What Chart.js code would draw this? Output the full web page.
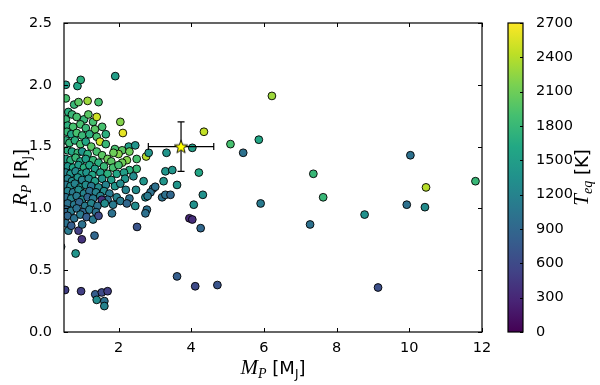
<!DOCTYPE html>
<html><head><meta charset="utf-8">
<script src="https://cdn.jsdelivr.net/npm/chart.js@4.4.0/dist/chart.umd.min.js"></script>
<style>html,body{margin:0;padding:0;background:#fff;}canvas{display:block;}</style>
</head><body>
<canvas id="c" width="600" height="385"></canvas>
<script>
// ---- data: planet mass [M_J], radius [R_J], equilibrium temperature [K] ----
const clusterMass = [
 0.55,0.87,0.96,1.91,
 0.55,0.78,0.90,1.15,1.45,
 0.55,0.62,0.72,0.85,1.05,1.17,1.30,1.40,
 0.60,0.75,0.95,1.10,1.35,1.55,2.05,
 0.58,0.70,0.85,1.00,1.20,1.40,1.65,2.12,
 0.55,0.65,0.80,0.95,1.10,1.25,1.49,1.65,2.28,2.46,1.90,2.10,2.30,2.00,
 0.60,0.72,0.88,1.00,1.15,1.40,1.55,1.86,2.76,2.83,3.32,
 0.55,0.68,0.82,0.95,1.10,1.30,1.45,1.70,1.80,2.23,2.50,2.10,
 0.60,0.75,0.90,1.05,1.20,1.35,1.60,1.85,2.00,2.50,2.30,
 3.29,3.48,0.55,0.68,0.82,0.98,1.12,1.28,1.50,1.70,1.95,2.15,
 0.60,0.72,0.88,1.00,1.18,1.35,1.55,1.80,2.18,2.41,2.69,3.24,3.61,
 0.55,0.68,0.80,0.95,1.10,1.25,1.45,1.65,1.90,2.05,
 0.60,0.75,0.90,1.05,1.20,1.38,1.60,1.75,2.20,2.48,2.95,2.88,3.01,
 0.55,0.70,0.85,1.00,1.15,1.30,1.50,1.70,1.95,2.30,2.74,2.80,3.20,3.29,3.43,1.54,
 0.60,0.78,0.92,1.08,1.25,1.42,1.62,1.85,2.05,2.23,2.46,
 0.55,0.70,0.85,1.02,1.20,1.38,2.78,
 0.60,0.78,0.95,1.12,1.30,1.45,1.82,2.74,
 0.55,0.62,0.70,0.90,1.00,2.51,
 1.34,0.99,0.82,0.42,
 0.53,0.97,1.36,1.54,1.70,1.40,1.61,1.61
];
const clusterRadius = [
 2.00,1.99,2.04,2.07,
 1.89,1.84,1.86,1.87,1.86,
 1.72,1.78,1.76,1.74,1.72,1.76,1.70,1.74,
 1.67,1.66,1.68,1.65,1.64,1.66,1.70,
 1.62,1.60,1.61,1.59,1.60,1.58,1.60,1.61,
 1.55,1.53,1.55,1.52,1.54,1.50,1.54,1.52,1.50,1.51,1.48,1.47,1.46,1.44,
 1.47,1.46,1.45,1.46,1.44,1.46,1.43,1.45,1.42,1.45,1.45,
 1.40,1.39,1.41,1.38,1.40,1.39,1.37,1.40,1.38,1.39,1.40,1.37,
 1.34,1.33,1.35,1.33,1.35,1.32,1.34,1.33,1.35,1.32,1.31,
 1.30,1.31,1.29,1.28,1.30,1.28,1.29,1.27,1.29,1.28,1.28,1.29,
 1.24,1.22,1.25,1.23,1.24,1.22,1.24,1.23,1.24,1.26,1.22,1.22,1.19,
 1.19,1.18,1.20,1.17,1.19,1.18,1.17,1.19,1.18,1.20,
 1.14,1.13,1.15,1.12,1.14,1.13,1.14,1.12,1.15,1.15,1.16,1.13,1.175,
 1.09,1.08,1.10,1.07,1.09,1.08,1.10,1.07,1.09,1.08,1.09,1.10,1.09,1.11,1.11,1.07,
 1.04,1.03,1.05,1.02,1.04,1.02,1.04,1.03,1.06,1.04,1.02,
 0.99,0.98,1.00,0.97,0.99,0.97,0.99,
 0.94,0.92,0.95,0.93,0.91,0.94,0.96,0.96,
 0.88,0.82,0.86,0.82,0.87,0.85,
 0.78,0.75,0.635,0.69,
 0.34,0.33,0.305,0.32,0.33,0.26,0.25,0.21
];
const clusterTeq = [
 1500,1600,1700,1500,
 1900,1800,2000,2300,1900,
 1800,1700,1800,1900,1800,2000,1900,2500,
 1700,1900,1900,1800,2000,1900,2200,
 1800,1600,1900,1800,1700,1900,1700,2600,
 1700,1800,1700,1900,1600,2000,2500,1800,1500,1400,1900,2000,2100,2200,
 1700,1600,1800,1400,1700,1900,2000,2100,2400,1400,1400,
 1500,1700,1800,1600,1500,1800,1700,2100,2000,2200,1900,2100,
 1400,1600,1500,1700,1600,1500,1800,1900,1900,1800,1700,
 1400,1400,1200,1400,1300,1500,1400,1600,1500,1700,1600,1500,
 1200,1300,1400,1200,1300,1500,1400,1500,1400,1300,1400,1400,1400,
 1100,1300,1200,1400,1300,1100,1300,1200,1400,1300,
 1200,1100,1300,1200,1000,1200,1300,1100,1200,1300,1000,1000,1000,
 1000,1200,1100,1300,900,1100,1200,1000,1200,1000,1300,1100,1000,1000,900,400,
 1000,1100,900,1100,1200,1000,1300,1100,1100,900,1300,
 900,1100,1000,900,1100,1000,1000,
 900,1000,1100,800,1100,600,1000,1000,
 1000,1100,800,500,1000,700,
 900,400,1400,1000,
 500,500,800,600,500,1300,1000,1200
];
const wideMass   = [4.03,4.21,4.32,4.07,3.95,4.03,4.26,4.35,5.08,5.43,5.86,5.91,6.22,3.61,4.11,4.72,7.36,7.63,7.27,8.77,9.14,10.03,9.93,10.43,10.46,11.82];
const wideRadius = [1.49,1.29,1.11,1.03,0.92,0.91,0.84,1.62,1.52,1.45,1.556,1.04,1.91,0.45,0.37,0.38,1.28,1.09,0.87,0.95,0.36,1.43,1.03,1.01,1.17,1.22];
const wideTeq    = [1500,1600,1350,1350,300,350,900,2450,1900,1000,1600,1100,2300,800,600,700,1800,1800,1000,1350,650,1000,1000,1300,2400,1800];

// highlighted planet (star) with error bars
const starMass = [3.72];
const starRadius = [1.50];
const starMassErr = [0.90];
const starRadiusErr = [0.20];

// axis ticks
const xTicks = [2,4,6,8,10,12];
const yTicks = [0,0.5,1.0,1.5,2.0,2.5];
const cbTicks = [0,300,600,900,1200,1500,1800,2100,2400,2700];
const teqMin = 0, teqMax = 2700;

// ---- styling helpers ----
const viridisStops = ['#440154','#482475','#414487','#355f8d','#2a788e','#21918c','#22a884','#44bf70','#7ad151','#bddf26','#fde725'];
function hex2rgb(h){return [parseInt(h.substr(1,2),16),parseInt(h.substr(3,2),16),parseInt(h.substr(5,2),16)];}
function viridis(t){
  t = Math.max(0, Math.min(1, t));
  const p = t*10, i = Math.min(9, Math.floor(p)), f = p - i;
  const a = hex2rgb(viridisStops[i]), b = hex2rgb(viridisStops[i+1]);
  return 'rgb(' + a.map((v,k)=>Math.round(v+(b[k]-v)*f)).join(',') + ')';
}
const allMass = clusterMass.concat(wideMass);
const allRadius = clusterRadius.concat(wideRadius);
const allTeq = clusterTeq.concat(wideTeq);

// star marker image
const starImg = document.createElement('canvas');
starImg.width = 18; starImg.height = 18;
(function(){
  const g = starImg.getContext('2d');
  const R = 7, r = 2.9, cx = 9, cy = 9.5;
  g.beginPath();
  for (let k=0;k<10;k++){
    const ang = -Math.PI/2 + k*Math.PI/5;
    const rr = k%2===0 ? R : r;
    const px = cx + rr*Math.cos(ang), py = cy + rr*Math.sin(ang);
    if(k===0) g.moveTo(px,py); else g.lineTo(px,py);
  }
  g.closePath();
  g.fillStyle = '#ffff00'; g.fill();
  g.lineWidth = 0.9; g.strokeStyle = '#000'; g.stroke();
})();

function drawRich(ctx, parts, x, y){
  let total = 0;
  parts.forEach(p=>{ctx.font = p.f; p.w = ctx.measureText(p.t).width; total += p.w;});
  let cx = x - total/2;
  ctx.textAlign = 'left'; ctx.textBaseline = 'alphabetic';
  parts.forEach(p=>{ctx.font = p.f; ctx.fillText(p.t, cx, y + (p.dy||0)); cx += p.w;});
}
const SERIF_I = 'italic 21px "Liberation Serif"';
const SERIF_SUB = 'italic 14px "Liberation Serif"';
const SANS = '18px "DejaVu Sans"';
const SANS_SUB = '12px "DejaVu Sans"';

const framePlugin = {
  id: 'frame',
  afterDatasetDraw(chart, args){
    if (args.index !== 1) return;
    const ctx = chart.ctx, xs = chart.scales.x, ys = chart.scales.y;
    ctx.save();
    ctx.strokeStyle = '#000'; ctx.lineWidth = 1.2;
    for (let i=0;i<starMass.length;i++){
      const cx = xs.getPixelForValue(starMass[i]), cy = ys.getPixelForValue(starRadius[i]);
      const x1 = xs.getPixelForValue(starMass[i]-starMassErr[i]), x2 = xs.getPixelForValue(starMass[i]+starMassErr[i]);
      const y1 = ys.getPixelForValue(starRadius[i]+starRadiusErr[i]), y2 = ys.getPixelForValue(starRadius[i]-starRadiusErr[i]);
      const c = 3.5;
      ctx.beginPath();
      ctx.moveTo(x1,cy); ctx.lineTo(x2,cy);
      ctx.moveTo(x1,cy-c); ctx.lineTo(x1,cy+c);
      ctx.moveTo(x2,cy-c); ctx.lineTo(x2,cy+c);
      ctx.moveTo(cx,y1); ctx.lineTo(cx,y2);
      ctx.moveTo(cx-c,y1); ctx.lineTo(cx+c,y1);
      ctx.moveTo(cx-c,y2); ctx.lineTo(cx+c,y2);
      ctx.stroke();
    }
    ctx.restore();
  },
  afterDraw(chart){
    const ctx = chart.ctx, a = chart.chartArea;
    const xs = chart.scales.x, ys = chart.scales.y, cb = chart.scales.cb;
    ctx.save();
    ctx.strokeStyle = '#000';
    ctx.lineWidth = 1.2;
    ctx.strokeRect(a.left, a.top, a.right-a.left, a.bottom-a.top);
    ctx.lineWidth = 1;
    const tl = 4;
    ctx.beginPath();
    xTicks.forEach(v=>{
      const p = Math.round(xs.getPixelForValue(v))+0.5;
      ctx.moveTo(p, a.bottom); ctx.lineTo(p, a.bottom-tl);
      ctx.moveTo(p, a.top); ctx.lineTo(p, a.top+tl);
    });
    yTicks.forEach(v=>{
      const p = Math.round(ys.getPixelForValue(v))+0.5;
      ctx.moveTo(a.left, p); ctx.lineTo(a.left+tl, p);
      ctx.moveTo(a.right, p); ctx.lineTo(a.right-tl, p);
    });
    ctx.stroke();
    // colorbar
    const bx0 = a.right + 26, bx1 = a.right + 41;
    const bTop = cb.getPixelForValue(teqMax), bBot = cb.getPixelForValue(teqMin);
    const grad = ctx.createLinearGradient(0, bBot, 0, bTop);
    viridisStops.forEach((c,i)=>grad.addColorStop(i/(viridisStops.length-1), c));
    ctx.fillStyle = grad;
    ctx.fillRect(bx0, bTop, bx1-bx0, bBot-bTop);
    ctx.lineWidth = 1.2;
    ctx.strokeRect(bx0, bTop, bx1-bx0, bBot-bTop);
    ctx.lineWidth = 1;
    ctx.beginPath();
    cbTicks.forEach(v=>{
      const p = Math.round(cb.getPixelForValue(v))+0.5;
      ctx.moveTo(bx1, p); ctx.lineTo(bx1-3, p);
    });
    ctx.stroke();
    // titles
    ctx.fillStyle = '#000';
    const midX = (a.left + a.right)/2, midY = (a.top + a.bottom)/2;
    drawRich(ctx, [
      {t:'M', f:SERIF_I},{t:'P', f:SERIF_SUB, dy:4},{t:' [M', f:SANS},{t:'J', f:SANS_SUB, dy:4},{t:']', f:SANS}
    ], midX, 374);
    ctx.save();
    ctx.translate(27, midY);
    ctx.rotate(-Math.PI/2);
    drawRich(ctx, [
      {t:'R', f:SERIF_I},{t:'P', f:SERIF_SUB, dy:4},{t:' [R', f:SANS},{t:'J', f:SANS_SUB, dy:4},{t:']', f:SANS}
    ], 0, 0);
    ctx.restore();
    ctx.save();
    ctx.translate(588, midY);
    ctx.rotate(-Math.PI/2);
    drawRich(ctx, [
      {t:'T', f:SERIF_I},{t:'eq', f:SERIF_SUB, dy:4},{t:' [K]', f:SANS}
    ], 0, 0);
    ctx.restore();
    ctx.restore();
  }
};

function noPad(s){ s.paddingTop = 0; s.paddingBottom = 0; }
const tickFont = {family:'DejaVu Sans', size:14.5};
new Chart(document.getElementById('c'), {
  type: 'scatter',
  data: {
    datasets: [
      {
        label: 'target',
        data: starMass.map((m,i)=>({x:m, y:starRadius[i]})),
        pointStyle: starImg,
        pointRadius: 8, pointHoverRadius: 8,
        clip: false
      },
      {
        label: 'planets',
        data: allMass.map((m,i)=>({x:m, y:allRadius[i]})),
        backgroundColor: allTeq.map(t=>viridis((t-teqMin)/(teqMax-teqMin))),
        borderColor: '#000',
        borderWidth: 0.9,
        pointRadius: 3.9, pointHoverRadius: 3.9,
        clip: 0
      }
    ]
  },
  options: {
    responsive: false, animation: false, devicePixelRatio: 1, events: [],
    layout: {autoPadding: false, padding: {top: 23, left: 0, right: 0, bottom: 0}},
    plugins: {legend: {display: false}, tooltip: {enabled: false}},
    scales: {
      x: {
        type: 'linear', position: 'bottom', min: 0.5, max: 12,
        afterBuildTicks: s => { s.ticks = xTicks.map(v=>({value:v})); },
        afterFit: s => { s.height = 53; s.paddingLeft = 0; s.paddingRight = 0; },
        grid: {display: false}, border: {display: false},
        ticks: {font: tickFont, color: '#000', padding: 0, maxRotation: 0, autoSkip: false, callback: v => String(v)}
      },
      y: {
        type: 'linear', position: 'left', min: 0, max: 2.5,
        afterBuildTicks: s => { s.ticks = yTicks.map(v=>({value:v})); },
        afterFit: s => { s.width = 64; noPad(s); },
        grid: {display: false}, border: {display: false},
        ticks: {font: tickFont, color: '#000', padding: 4, autoSkip: false, callback: v => Number(v).toFixed(1)}
      },
      cb: {
        type: 'linear', position: 'right', min: teqMin, max: teqMax,
        afterBuildTicks: s => { s.ticks = cbTicks.map(v=>({value:v})); },
        afterFit: s => { s.width = 118; noPad(s); },
        grid: {display: false}, border: {display: false},
        ticks: {font: tickFont, color: '#000', padding: 46, autoSkip: false, callback: v => String(v)}
      }
    }
  },
  plugins: [framePlugin]
});
</script>
</body></html>
